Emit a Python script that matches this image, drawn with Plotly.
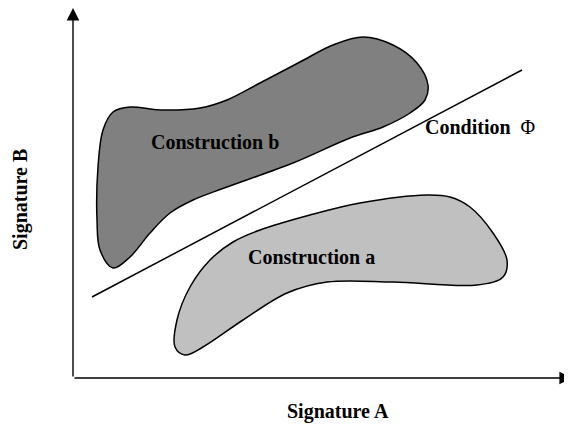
import plotly.graph_objects as go

# outline control points of the two regions (x = signature A, y = signature B, screen-like units)
blob_b_x = [113, 100, 97, 98, 103, 113, 130, 160, 200, 227, 260, 300, 333, 363, 393, 417, 428, 425, 410, 383, 350, 293, 227, 193, 170, 150, 130, 113]
blob_b_y = [268, 250, 220, 167, 130, 112, 107, 110, 108, 100, 83, 62, 45, 37, 45, 63, 85, 100, 113, 127, 138, 163, 187, 200, 213, 233, 257, 268]

blob_a_x = [360, 427, 450, 470, 493, 507, 503, 477, 393, 327, 287, 243, 203, 185, 175, 177, 190, 210, 233, 260, 310, 360]
blob_a_y = [203, 195, 197, 207, 233, 260, 277, 285, 282, 282, 293, 320, 347, 355, 347, 320, 287, 260, 242, 230, 215, 203]

cond_x = [92, 522]
cond_y = [297, 70]

labels = ["Construction b", "Construction a", "Condition", "Signature A", "Signature B"]
label_x = [215, 311, 423, 338, 20]
label_y = [142, 257, 127, 411, 200]

fig = go.Figure()

fig.add_trace(go.Scatter(x=blob_b_x, y=blob_b_y, mode="lines", line=dict(shape="spline", smoothing=1.0, color="black", width=1.5),
                         fill="toself", fillcolor="#808080", hoverinfo="skip"))
fig.add_trace(go.Scatter(x=blob_a_x, y=blob_a_y, mode="lines", line=dict(shape="spline", smoothing=1.0, color="black", width=1.5),
                         fill="toself", fillcolor="#c0c0c0", hoverinfo="skip"))
fig.add_trace(go.Scatter(x=cond_x, y=cond_y, mode="lines", line=dict(color="black", width=1.5), hoverinfo="skip"))

font = dict(family="Liberation Serif", size=20, color="black")
fig.add_annotation(x=label_x[0], y=label_y[0], text="<b>" + labels[0] + "</b>", showarrow=False, font=font)
fig.add_annotation(x=label_x[1], y=label_y[1], text="<b>" + labels[1] + "</b>", showarrow=False, font=font)
fig.add_annotation(x=label_x[2], y=label_y[2], text="<b>" + labels[2] + "</b>  Φ", showarrow=False, font=font, xanchor="left")
fig.add_annotation(x=label_x[3], y=label_y[3], text="<b>" + labels[3] + "</b>", showarrow=False, font=font)
fig.add_annotation(x=label_x[4], y=label_y[4], text="<b>" + labels[4] + "</b>", showarrow=False, font=font, textangle=-90)

# axes arrows
fig.add_annotation(x=572, y=378, ax=73, ay=378, xref="x", yref="y", axref="x", ayref="y", text="",
                   showarrow=True, arrowhead=2, arrowsize=1.8, arrowwidth=1.4, arrowcolor="black")
fig.add_annotation(x=73, y=8, ax=73, ay=378, xref="x", yref="y", axref="x", ayref="y", text="",
                   showarrow=True, arrowhead=2, arrowsize=1.8, arrowwidth=1.4, arrowcolor="black")

# page body has an 8px margin, so the figure covers 8..572 of the window
fig.update_xaxes(range=[8, 572], visible=False)
fig.update_yaxes(range=[432, 8], visible=False)
fig.update_layout(width=564, height=424, margin=dict(l=0, r=0, t=0, b=0), showlegend=False,
                  plot_bgcolor="white", paper_bgcolor="white")

fig.write_html("out.html")
